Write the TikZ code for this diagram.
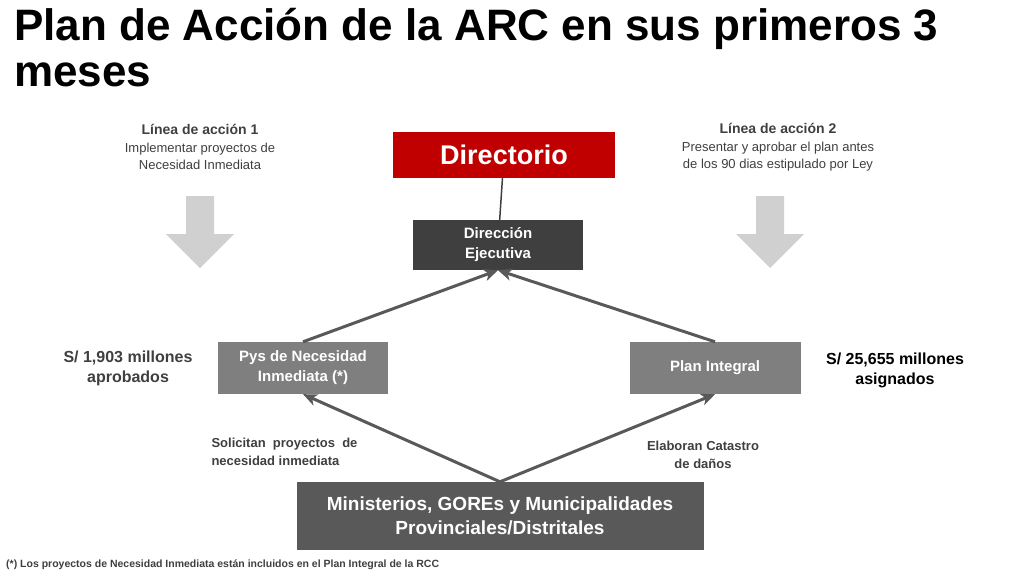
\documentclass[tikz,border=0pt]{standalone}
\usepackage{fontspec}
\setmainfont{Liberation Sans}
\usetikzlibrary{positioning,arrows.meta}
\definecolor{rojo}{HTML}{C00000}
\definecolor{oscuro}{HTML}{3F3F3F}
\definecolor{medio}{HTML}{7F7F7F}
\definecolor{minis}{HTML}{595959}
\definecolor{flecha}{HTML}{595959}
\definecolor{bigarrow}{HTML}{D0D0D0}

\begin{document}
\begin{tikzpicture}[x=1pt,y=-1pt]
%\draw[help lines] (0,0) grid (1024,576);
\useasboundingbox (0,0) rectangle (1024,576);

%%% TITLE
\node [anchor=north west, inner sep=0pt, align=left, font=\fontsize{44}{46}\selectfont\bfseries] (title) at (14,8) {Plan de Acción de la ARC en sus primeros 3\\meses};

%%% BOXES
\node [rectangle, fill=rojo, text=white, minimum width=222pt, minimum height=46pt, font=\fontsize{27}{30}\selectfont\bfseries] (directorio) at (504,155) {Directorio};
\node [rectangle, fill=oscuro, text=white, minimum width=170pt, minimum height=50pt, align=center, font=\fontsize{15}{20}\selectfont\bfseries] (direccion) at (498,245) {Dirección\\Ejecutiva};
\node [rectangle, fill=medio, text=white, minimum width=170pt, minimum height=52pt, align=center, font=\fontsize{15}{20}\selectfont\bfseries] (pys) at (303,368) {Pys de Necesidad\\Inmediata (*)};
\node [rectangle, fill=medio, text=white, minimum width=171pt, minimum height=52pt, align=center, font=\fontsize{15}{20}\selectfont\bfseries] (plan) at (715,368) {Plan Integral};
\node [rectangle, fill=minis, text=white, minimum width=407pt, minimum height=68pt, align=center, font=\fontsize{19}{24}\selectfont\bfseries] (ministerios) at (500,516) {Ministerios, GOREs y Municipalidades\\Provinciales/Distritales};

%%% LINEAS DE ACCION
\node [align=center, font=\fontsize{14}{17}\selectfont, text=oscuro] (linea1) at (200,147) {\textbf{Línea de acción 1}\\[1pt]\fontsize{13}{16}\selectfont Implementar proyectos de\\\fontsize{13}{16}\selectfont Necesidad Inmediata};
\node [align=center, font=\fontsize{14}{17}\selectfont, text=oscuro] (linea2) at (778,147) {\textbf{Línea de acción 2}\\[1pt]\fontsize{13}{16}\selectfont Presentar y aprobar el plan antes\\\fontsize{13}{16}\selectfont de los 90 dias estipulado por Ley};

%%% big arrows
\foreach \x/\n in {200/flecha1, 770/flecha2}
\fill [bigarrow] (\x-14,196) -- (\x+14,196) -- (\x+14,234) -- (\x+34,234) -- (\x,268) -- (\x-34,234) -- (\x-14,234) -- cycle;

%%% MONTOS
\node [align=center, font=\fontsize{16}{20}\selectfont\bfseries, text=oscuro] (monto1) at (128,368) {S/ 1,903 millones\\aprobados};
\node [align=center, font=\fontsize{16}{20}\selectfont\bfseries, text=black] (monto2) at (895,370) {S/ 25,655 millones\\asignados};

%%% connections, arrows
\draw [line width=1.5pt, oscuro] (directorio) -- (direccion);
\draw [-{Stealth[length=14pt,width=12pt,inset=4pt]}, line width=3pt, flecha] (pys.north) -- (direccion.south);
\draw [-{Stealth[length=14pt,width=12pt,inset=4pt]}, line width=3pt, flecha] (plan.north) -- (direccion.south);
\draw [-{Stealth[length=14pt,width=12pt,inset=4pt]}, line width=3pt, flecha] (ministerios.north) -- (pys.south);
\draw [-{Stealth[length=14pt,width=12pt,inset=4pt]}, line width=3pt, flecha] (ministerios.north) -- (plan.south);

\node [anchor=west, align=left, font=\fontsize{13}{18}\selectfont\bfseries, text=oscuro] (solicitan) at (208,452) {Solicitan~ proyectos~ de\\necesidad inmediata};
\node [align=center, font=\fontsize{13}{18}\selectfont\bfseries, text=oscuro] (elaboran) at (703,455) {Elaboran Catastro\\de daños};

%%% footnote
\node [anchor=west, inner sep=0pt, font=\fontsize{10.5}{12}\selectfont\bfseries, text=oscuro] (nota) at (6,565) {(*) Los proyectos de Necesidad Inmediata están incluidos en el Plan Integral de la RCC};

\end{tikzpicture}
\end{document}
